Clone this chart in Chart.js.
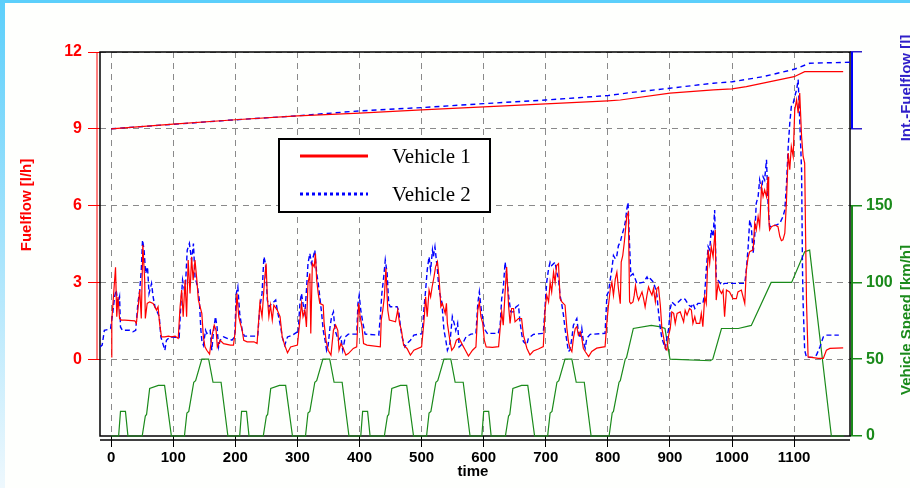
<!DOCTYPE html>
<html>
<head>
<meta charset="utf-8">
<script src="https://cdn.jsdelivr.net/npm/chart.js@4.4.1/dist/chart.umd.min.js"></script>
<style>
html, body { margin: 0; padding: 0; background: #fff; }
#wrap { position: relative; width: 910px; height: 488px; overflow: hidden; background: #fefffd; }
#topBand { position: absolute; left: 0; top: 0; width: 910px; height: 3px; background: #5ccffb; }
#leftBand { position: absolute; left: 0; top: 0; width: 5px; height: 488px; background: linear-gradient(#5ccffb, #eef8fd); }
#chart { position: absolute; left: 0; top: 0; }
</style>
</head>
<body>
<div id="wrap">
  <div id="topBand"></div>
  <div id="leftBand"></div>
  <canvas id="chart" width="910" height="488"></canvas>
</div>
<script>
// axis ticks
const timeTicks = [0, 100, 200, 300, 400, 500, 600, 700, 800, 900, 1000, 1100];
const fuelTicks = [0, 3, 6, 9, 12];
const speedTicks = [0, 50, 100, 150];
const intTicks = [0, 0.8];

// fuel flow [l/h], pairs of [time, value]
const vehicle1Fuel = [
  [0,0.09],[1,1.53],[7,3.59],[9,1.66],[11,2.44],[13.5,1.59],[16,1.53],[22,1.53],[38,1.50],[40.5,1.40],[43,1.92],[46,2.70],[48.5,1.59],[51,4.46],[54,3.09],[55,1.59],[58,2.18],[62,2.24],[67.5,2.18],[73,1.92],[75.5,2.05],[78,1.40],[81,0.87],[86.5,0.87],[92,0.90],[97,0.87],[103,0.90],[108,0.81],[111,2.05],[113.5,2.70],[116,1.66],[119,3.09],[121.5,1.66],[124,3.87],[127,2.57],[129.5,4.00],[132,3.09],[135,3.87],[138,3.09],[140.5,2.31],[146,1.79],[148.5,0.87],[151,0.48],[154,0.35],[158.5,0.20],[162,0.87],[166,1.33],[169,1.13],[171,0.48],[175.5,0.74],[181,0.61],[192,0.55],[197,0.55],
  [200,1.13],[202.5,2.57],[205.5,1.66],[208,1.40],[211,1.13],[213.5,0.74],[219,0.68],[230,0.68],[235,0.61],[239.5,2.18],[243,1.66],[247,3.09],[249.5,3.74],[251.5,2.44],[254,1.66],[256.5,2.11],[259.5,1.53],[262,2.11],[267.5,1.92],[272,1.66],[275.5,0.87],[279.5,0.55],[284,0.25],[289,0.48],[300,0.55],
  [304,1.53],[306.5,2.18],[309,1.66],[312,1.92],[314.5,1.26],[317,2.96],[320,3.35],[321.5,1.00],[324,3.74],[327,3.61],[329,4.13],[331,3.09],[333.5,2.57],[336,2.18],[341.5,2.11],[343,1.40],[346,0.74],[349.5,0.35],[354,0.16],[358,1.13],[361.5,1.33],[365,1.13],[367,0.35],[370,0.61],[374,0.42],[378,0.16],[382,0.22],[390,0.42],[395.5,0.48],
  [398.5,2.18],[401,1.66],[404,1.26],[406.5,0.61],[412,0.55],[433.5,0.48],[435,1.53],[437.5,1.92],[440,2.44],[442.5,3.55],[445.5,1.92],[448,1.53],[458,1.46],[461.5,1.92],[464.5,1.40],[467.5,1.13],[471,0.55],[476.5,0.42],[482,0.16],[487.5,0.35],[500,0.48],
  [504,1.53],[506.5,2.44],[509,1.66],[512,2.70],[514.5,2.44],[517,2.83],[520,3.22],[522.5,3.61],[525.5,3.81],[528,3.22],[531,2.05],[533.5,2.18],[538,1.79],[540,2.18],[541.5,1.40],[545.5,0.74],[548.5,0.35],[552.5,0.48],[556,0.74],[560.5,0.81],[566,0.55],[570.5,0.35],[575.5,0.12],[582,0.35],[587.5,0.48],
  [590.5,1.92],[593,2.24],[595.5,1.66],[598.5,1.40],[601,0.74],[604,0.48],[614,0.46],[624,0.49],[626.5,1.20],[629,1.85],[631.5,1.33],[634.5,2.63],[637,3.60],[640,2.11],[642.5,1.40],[645,1.98],[648,1.98],[650.5,1.46],[656,1.59],[661,1.59],[664,0.94],[669.5,0.43],[674.5,0.17],[680,0.32],[688,0.40],[696,0.49],
  [699,1.98],[701.5,2.50],[704.5,2.24],[707,3.01],[709.5,2.63],[712.5,3.40],[715,3.01],[717.5,3.66],[720.5,3.73],[723,2.37],[726,2.24],[731,2.11],[734,1.20],[736.5,0.69],[739,0.43],[742,0.30],[744.5,0.82],[747.5,1.20],[750,1.27],[752.5,0.94],[755.5,1.07],[758,0.82],[760.5,0.43],[763.5,0.30],[769,0.10],[774,0.30],[782,0.43],[795.5,0.49],
  [798.5,1.46],[801,2.11],[804,2.76],[806.5,3.01],[809,2.50],[812,3.14],[814.5,3.40],[817,2.76],[820,2.17],[821.5,3.79],[824,4.05],[826.5,4.57],[828.5,5.08],[830.5,5.60],[833,5.73],[835,2.24],[837,2.17],[840.5,2.24],[842.5,2.50],[844.5,2.88],[847,2.50],[849.5,2.30],[855,2.63],[857.5,2.37],[860,2.04],[863,2.50],[865.5,2.82],[868.5,2.63],[871,2.50],[873.5,2.76],[876.5,2.24],[879,2.76],[881.5,2.82],[884.5,2.11],[887,1.20],[890,0.82],[892.5,0.43],[895,0.36],[898,0.94],
  [900.5,1.20],[903,1.85],[906,1.79],[908.5,1.40],[911.5,1.79],[916.5,1.85],[922,1.46],[924.5,1.91],[927.5,1.72],[931.5,1.98],[934.5,1.92],[937,1.40],[940,1.66],[942.5,1.40],[948,1.40],[950.5,1.79],[953,1.27],[956,2.44],[958.5,2.18],[961.5,4.27],[964,3.74],[966.5,4.40],[969.5,4.00],[971,4.53],[973,5.05],[974.5,2.31],[977.5,2.96],[980,2.70],[983,2.57],[985.5,2.70],[988,1.66],[991,2.70],[996,2.63],
  [1001.5,2.37],[1007,2.37],[1009.5,2.63],[1015,2.70],[1020.5,2.18],[1023,3.48],[1026,4.00],[1028.5,4.20],[1034,4.27],[1036.5,5.31],[1039,5.05],[1042,5.57],[1044.5,5.18],[1047.5,6.74],[1050,6.35],[1052.5,6.61],[1055.5,6.35],[1058,7.13],[1059,5.57],[1060.5,5.05],[1063.5,5.18],[1069,5.24],[1074,5.18],[1077,4.79],[1079.5,4.63],[1082,4.66],[1085,4.92],[1087.5,6.09],[1090.5,8.05],[1093,7.40],[1095.5,8.31],[1098.5,7.92],
  [1101,9.74],[1104,10.13],[1106.5,9.61],[1109,10.40],[1112,8.70],[1114.5,7.92],[1117,7.66],[1118.5,4.79],[1120,2.18],[1122.5,0.09],[1139,0.03],[1147,0.03],[1152,0.35],[1157.5,0.42],[1179,0.44]
];

const vehicle2Fuel = [
  [-18,0.48],[-14.5,0.55],[-11,1.13],[-5.5,1.16],[-1,1.20],[2.5,1.79],[5.5,2.44],[8,2.70],[11,2.18],[13.5,2.44],[15,1.26],[18,1.13],[29.5,1.13],[35,1.07],[39.5,1.13],[43,2.18],[46,2.70],[48.5,3.48],[50.5,4.65],[53,4.26],[55.5,3.35],[58.5,3.61],[61,2.57],[65,2.96],[67.5,2.44],[70.5,2.05],[73,1.92],[77.5,1.66],[80,0.87],[84,0.55],[86.5,0.35],[89,0.74],[94.5,0.87],[109.5,0.85],
  [112,2.05],[115,3.09],[119,2.57],[122.5,4.26],[126,4.52],[129.5,3.87],[132.5,4.52],[135,3.22],[139,2.83],[142,2.31],[144.5,1.13],[146,0.74],[148.5,0.55],[152,1.13],[154,1.00],[159.5,1.13],[162,0.35],[165,1.13],[168,1.66],[170.5,1.26],[173,0.48],[175.5,0.74],[181,0.87],[194.5,0.74],[199,0.87],
  [201.5,2.57],[204,2.83],[207,1.79],[211,1.13],[214.5,0.90],[236,0.90],[239.5,2.05],[243,2.57],[246,4.00],[248.5,3.74],[251.5,2.31],[254,2.05],[259.5,2.18],[265,2.31],[267.5,1.92],[273,1.26],[275.5,0.87],[279.5,0.55],[284,0.87],[292,0.94],[300,1.07],
  [301,1.00],[304,2.18],[306.5,2.57],[309,2.18],[312,1.79],[314.5,2.70],[317,3.74],[320,4.13],[322.5,3.74],[325.5,4.00],[328,4.26],[331,3.35],[333.5,2.96],[336,2.44],[339,1.79],[341.5,1.13],[344.5,0.74],[347,0.35],[349.5,0.55],[352.5,1.26],[355,1.66],[358,1.85],[360.5,1.13],[366,0.74],[370,0.87],[373,0.35],[377,0.87],[382,0.98],[395.5,0.98],
  [397.5,2.18],[399.5,2.50],[402,1.92],[405.5,1.40],[409,0.98],[431,0.94],[433.5,1.66],[436,2.57],[439,3.22],[441.5,3.87],[444.5,3.35],[447,2.18],[449.5,2.05],[460.5,2.05],[463,1.92],[466,1.26],[468.5,0.87],[473,0.48],[476.5,0.61],[482,0.74],[487.5,0.94],[501,1.00],
  [504,2.05],[506.5,2.70],[509,3.48],[512,4.00],[514.5,3.48],[517.5,4.26],[519,4.00],[521.5,4.39],[525.5,3.48],[528,2.70],[532.5,2.24],[536,1.13],[539,0.74],[541.5,0.35],[545.5,0.61],[549.5,1.66],[552.5,1.40],[555,1.13],[558,1.40],[560.5,0.48],[566,0.61],[571.5,0.87],[579.5,0.98],[587.5,1.00],
  [590.5,2.18],[593,2.63],[595.5,2.05],[599.5,1.40],[602.5,1.13],[606.5,0.98],[610,1.01],[623.5,1.01],[626.5,1.33],[629,2.37],[631.5,2.76],[634.5,3.79],[637,3.27],[640,2.50],[643.5,1.85],[648,1.85],[652,2.04],[656,2.11],[658.5,1.46],[661.5,0.94],[664,0.69],[669.5,0.56],[672,0.82],[680,0.97],[696,1.01],
  [699,2.11],[701.5,3.01],[704.5,3.53],[707,3.79],[709.5,3.66],[715,3.79],[717.5,3.40],[720.5,3.14],[723,2.50],[726,2.11],[728.5,1.72],[731,1.20],[734,0.69],[736.5,0.30],[739,0.36],[742,0.82],[744.5,1.33],[750,1.59],[752.5,1.07],[755.5,0.82],[758,1.20],[760.5,0.69],[763.5,0.43],[766,0.82],[771.5,0.97],[795.5,1.01],
  [798.5,2.50],[801,2.63],[804,3.14],[806.5,3.53],[809,4.05],[812,3.92],[814.5,4.05],[817,4.44],[820,4.57],[822.5,4.83],[825.5,5.08],[828,5.34],[830.5,5.86],[832.5,6.12],[835,4.44],[837,3.27],[840.5,3.34],[844,3.14],[847,2.95],[857.5,3.01],[863,3.21],[865.5,3.08],[868.5,3.14],[873.5,3.01],[876.5,2.76],[879,2.50],[881.5,1.85],[884.5,1.20],[887,0.82],[892.5,0.43],[895,0.82],[898,1.20],
  [900.5,1.98],[903,2.24],[908.5,2.11],[914,2.24],[919.5,2.37],[924.5,2.34],[930,2.11],[934.5,2.05],[937,2.18],[940,1.98],[945,2.18],[953,2.18],[956,2.57],[958.5,3.48],[961.5,4.40],[964,4.27],[966.5,5.05],[969.5,4.79],[972,5.83],[974.5,3.22],[977.5,3.09],[983,2.90],[988,2.96],
  [1020.5,2.96],[1023,3.48],[1026,4.40],[1028.5,5.44],[1031,5.18],[1034,4.13],[1036.5,4.79],[1039,6.09],[1042,6.35],[1044.5,7.00],[1047.5,6.61],[1050,7.13],[1052.5,7.00],[1055.5,7.79],[1058,6.09],[1060.5,5.18],[1071.5,5.24],[1077,5.31],[1082,5.57],[1085,5.83],[1087.5,6.74],[1090.5,8.31],[1093,9.22],[1095.5,9.87],[1098.5,10.00],
  [1101,10.26],[1104,10.53],[1106.5,10.92],[1109,9.35],[1112,7.40],[1113.5,3.48],[1114.5,2.18],[1117,0.35],[1120,0.07],[1130.5,0.07],[1136,0.16],[1141.5,0.48],[1147,0.87],[1152,0.94],[1172,0.94]
];

// integrated fuel [l]
const vehicle1Int = [
  [0,0],[100,0.049],[200,0.094],[300,0.135],[400,0.163],[500,0.197],[600,0.229],[700,0.26],[800,0.291],[820,0.30],
  [900,0.371],[970,0.405],[1000,0.416],[1023,0.44],[1050,0.475],[1100,0.543],[1117,0.595],[1179,0.595]
];
const vehicle2Int = [
  [0,0],[100,0.047],[200,0.094],[300,0.135],[400,0.187],[500,0.221],[600,0.262],[700,0.30],[800,0.346],[836,0.377],
  [900,0.423],[970,0.475],[1000,0.49],[1050,0.543],[1100,0.62],[1125,0.683],[1190,0.693]
];

// vehicle speed [km/h]
const vehicleSpeed = [
  [0,0],[12,0],[15,16],[23,16],[27,0],[50,0],[55,13],[57,14],[62,31],[76,33],[86,33],[97,0],[118,0],[122,15],[125,16],[133,35],[136,36],[146,50],[157,50],[164,35],[177,35],[188,0],
  [207,0],[210,16],[218,16],[222,0],[245,0],[250,13],[252,14],[257,31],[271,33],[281,33],[292,0],[313,0],[317,15],[320,16],[328,35],[331,36],[341,50],[352,50],[359,35],[372,35],[383,0],
  [402,0],[405,16],[413,16],[417,0],[440,0],[445,13],[447,14],[452,31],[466,33],[476,33],[487,0],[508,0],[512,15],[515,16],[523,35],[526,36],[536,50],[547,50],[554,35],[567,35],[578,0],
  [597,0],[600,16],[608,16],[612,0],[635,0],[640,13],[642,14],[647,31],[661,33],[671,33],[682,0],[703,0],[707,15],[710,16],[718,35],[721,36],[731,50],[742,50],[749,35],[762,35],[773,0],
  [802,0],[807,15],[809,16],[818,35],[820,36],[828,50],[830,51],[841,70],[870,72],[885,71],[892,70],[900,50],[965,49],[969,50],[983,70],[1010,70],[1031,72],
  [1063,100],[1096,100],[1117,120],[1125,121],[1160,0],[1180,0]
];

const FONT = "'Liberation Sans Narrow', 'Arial Narrow', 'Liberation Sans', Arial, sans-serif";
const RED = '#ff0000';
const BLUE = '#0000ff';
const INT_BLUE = '#2f1fc8';
const GREEN = '#1a8a1a';

const toPoints = arr => arr.map(p => ({ x: p[0], y: p[1] }));

const decorations = {
  id: 'decorations',
  beforeDatasetsDraw(chart) {
    const { ctx, chartArea: a, scales } = chart;
    ctx.save();
    // plot frame with double bottom line
    ctx.strokeStyle = '#000';
    ctx.lineWidth = 1.5;
    ctx.strokeRect(a.left, a.top, a.right - a.left, a.bottom - a.top);
    ctx.beginPath();
    ctx.moveTo(a.left, a.bottom + 4);
    ctx.lineTo(a.right, a.bottom + 4);
    ctx.stroke();
    // coloured axis brackets
    ctx.lineWidth = 1;
    ctx.strokeStyle = RED;
    ctx.beginPath();
    ctx.moveTo(a.left - 3, scales.y.getPixelForValue(12));
    ctx.lineTo(a.left - 3, scales.y.getPixelForValue(0));
    ctx.stroke();
    ctx.lineWidth = 2;
    ctx.strokeStyle = BLUE;
    ctx.beginPath();
    ctx.moveTo(a.right + 2, scales.yInt.getPixelForValue(0.8));
    ctx.lineTo(a.right + 2, scales.yInt.getPixelForValue(0));
    ctx.stroke();
    ctx.strokeStyle = GREEN;
    ctx.beginPath();
    ctx.moveTo(a.right + 2, scales.ySpeed.getPixelForValue(150));
    ctx.lineTo(a.right + 2, scales.ySpeed.getPixelForValue(0));
    ctx.stroke();
    ctx.restore();
  },
  afterDraw(chart) {
    const { ctx } = chart;
    ctx.save();
    // axis titles
    ctx.font = 'bold 15px ' + FONT;
    ctx.textAlign = 'center';
    ctx.textBaseline = 'middle';
    ctx.fillStyle = '#000';
    ctx.fillText('time', 473, 472);
    const vTitle = (text, x, y, color) => {
      ctx.save();
      ctx.translate(x, y);
      ctx.rotate(-Math.PI / 2);
      ctx.fillStyle = color;
      ctx.fillText(text, 0, 0);
      ctx.restore();
    };
    vTitle('Fuelflow [l/h]', 27, 205, RED);
    vTitle('Int.-Fuelflow [l]', 907, 88, INT_BLUE);
    vTitle('Vehicle Speed [km/h]', 907, 320, GREEN);

    // legend box
    ctx.fillStyle = '#fff';
    ctx.fillRect(279, 139, 211, 73);
    ctx.strokeStyle = '#000';
    ctx.lineWidth = 2;
    ctx.strokeRect(279, 139, 211, 73);
    ctx.lineWidth = 3;
    ctx.strokeStyle = RED;
    ctx.beginPath();
    ctx.moveTo(300, 156);
    ctx.lineTo(368, 156);
    ctx.stroke();
    ctx.strokeStyle = BLUE;
    ctx.setLineDash([3, 3]);
    ctx.beginPath();
    ctx.moveTo(300, 194);
    ctx.lineTo(368, 194);
    ctx.stroke();
    ctx.setLineDash([]);
    ctx.fillStyle = '#000';
    ctx.font = '21px "Liberation Serif", "Times New Roman", serif';
    ctx.textAlign = 'left';
    ctx.fillText('Vehicle 1', 392, 157);
    ctx.fillText('Vehicle 2', 392, 195);
    ctx.restore();
  }
};

const tickFont = { family: FONT, size: 16, weight: 'bold' };

new Chart(document.getElementById('chart'), {
  type: 'line',
  data: {
    datasets: [
      { label: 'Vehicle 1', data: toPoints(vehicle1Fuel), yAxisID: 'y', borderColor: RED, borderWidth: 1.2 },
      { label: 'Vehicle 2', data: toPoints(vehicle2Fuel), yAxisID: 'y', borderColor: BLUE, borderWidth: 1.4, borderDash: [5, 3] },
      { label: 'Int Vehicle 1', data: toPoints(vehicle1Int), yAxisID: 'yInt', borderColor: RED, borderWidth: 1.2 },
      { label: 'Int Vehicle 2', data: toPoints(vehicle2Int), yAxisID: 'yInt', borderColor: BLUE, borderWidth: 1.4, borderDash: [5, 4] },
      { label: 'Speed', data: toPoints(vehicleSpeed), yAxisID: 'ySpeed', borderColor: GREEN, borderWidth: 1.2, clip: 4 }
    ]
  },
  options: {
    responsive: false,
    animation: false,
    elements: { point: { radius: 0 }, line: { tension: 0, fill: false } },
    layout: { padding: { top: 52, left: 0, right: 0, bottom: 0 } },
    plugins: { legend: { display: false }, tooltip: { enabled: false } },
    scales: {
      x: {
        type: 'linear',
        position: 'bottom',
        min: -18,
        max: 1190,
        afterBuildTicks: s => { s.ticks = timeTicks.map(v => ({ value: v })); },
        afterFit: s => { s.height = 52; },
        grid: { color: '#8a8a8a', lineWidth: 1, tickColor: '#000', tickLength: 11 },
        border: { display: false, dash: [6, 5] },
        ticks: { color: '#000', font: { family: FONT, size: 15, weight: 'bold' }, padding: 2, maxRotation: 0, callback: v => String(v) }
      },
      y: {
        position: 'left',
        min: -3,
        max: 12,
        afterBuildTicks: s => { s.ticks = fuelTicks.map(v => ({ value: v })); },
        afterFit: s => { s.width = 100; },
        grid: { color: '#8a8a8a', lineWidth: 1, tickColor: RED, tickLength: 12 },
        border: { display: false, dash: [6, 5] },
        ticks: { color: RED, font: tickFont, padding: 6 }
      },
      yInt: {
        position: 'right',
        weight: 0,
        min: -3.2,
        max: 0.8,
        afterBuildTicks: s => { s.ticks = intTicks.map(v => ({ value: v })); },
        afterFit: s => { s.width = 0; },
        grid: { drawOnChartArea: false, tickColor: INT_BLUE, tickLength: 12, lineWidth: 1.5 },
        border: { display: false },
        ticks: { color: INT_BLUE, font: tickFont, padding: 4, callback: v => v.toFixed(1) }
      },
      ySpeed: {
        position: 'right',
        weight: 1,
        min: 0,
        max: 250,
        afterBuildTicks: s => { s.ticks = speedTicks.map(v => ({ value: v })); },
        afterFit: s => { s.width = 60; },
        grid: { drawOnChartArea: false, tickColor: GREEN, tickLength: 12, lineWidth: 1.5 },
        border: { display: false },
        ticks: { color: GREEN, font: tickFont, padding: 4 }
      }
    }
  },
  plugins: [decorations]
});
</script>
</body>
</html>
